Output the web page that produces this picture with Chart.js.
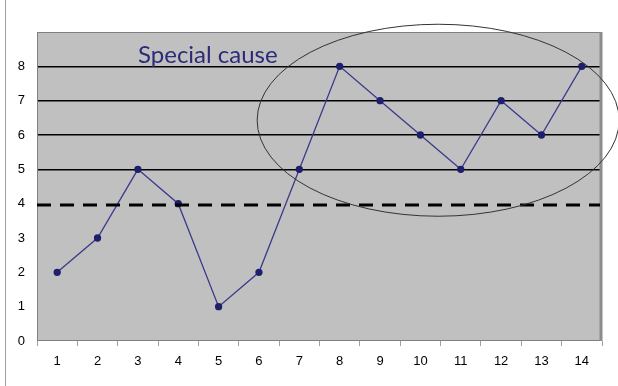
<!DOCTYPE html>
<html>
<head>
<meta charset="utf-8">
<script src="https://cdn.jsdelivr.net/npm/chart.js@4.4.0/dist/chart.umd.min.js"></script>
<style>
  html, body { margin: 0; padding: 0; background: #fff; }
  #wrap { width: 618px; height: 386px; }
</style>
</head>
<body>
<div id="wrap"><canvas id="chart"></canvas></div>
<script>
// Data
const categories = ['1', '2', '3', '4', '5', '6', '7', '8', '9', '10', '11', '12', '13', '14'];
const values = [2, 3, 5, 4, 1, 2, 5, 8, 7, 6, 5, 7, 6, 8];
const yTicks = [0, 1, 2, 3, 4, 5, 6, 7, 8];
const centerLine = 3.95;
const gridValues = [5, 6, 7, 8];
const noteText = 'Special cause';

// Background, borders, dashed line, ellipse and note
const decorPlugin = {
    id: 'decor',
    beforeDraw(chart) {
        const c = chart.ctx;
        const a = chart.chartArea;
        c.save();
        c.fillStyle = '#c0c0c0';
        c.fillRect(a.left, a.top, a.right - a.left, a.bottom - a.top);
        // thin frame line on the far left
        c.strokeStyle = '#a0a0a0';
        c.lineWidth = 1;
        c.beginPath();
        c.moveTo(5.5, 0);
        c.lineTo(5.5, chart.height);
        c.stroke();
        c.restore();
    },
    afterDatasetsDraw(chart) {
        const c = chart.ctx;
        const a = chart.chartArea;
        const x = chart.scales.x;
        const y = chart.scales.y;
        c.save();
        // plot border
        c.strokeStyle = '#808080';
        c.lineWidth = 1;
        c.strokeRect(a.left + 0.5, a.top + 0.5, a.right - a.left - 1, a.bottom - a.top - 1);
        c.strokeStyle = '#8c8c8c';
        c.lineWidth = 3;
        c.beginPath();
        c.moveTo(a.right - 1, a.top);
        c.lineTo(a.right - 1, a.bottom);
        c.stroke();

        // dashed center line
        const yc = Math.round(y.getPixelForValue(centerLine));
        c.strokeStyle = '#000';
        c.lineWidth = 3;
        c.setLineDash([14, 9]);
        c.beginPath();
        c.moveTo(a.left, yc);
        c.lineTo(a.right - 2, yc);
        c.stroke();
        c.setLineDash([]);

        // ellipse around the special cause points
        const ex = x.getPixelForValue(9.44);
        const ey = y.getPixelForValue(6.43);
        c.strokeStyle = '#333';
        c.lineWidth = 1;
        c.beginPath();
        c.ellipse(ex, ey, 181, 96, 0, 0, Math.PI * 2);
        c.stroke();

        // note
        c.fillStyle = '#2b2b78';
        c.font = '24px Lato';
        c.textBaseline = 'alphabetic';
        c.fillText(noteText, 138, 63);
        c.restore();
    }
};

new Chart(document.getElementById('chart'), {
    type: 'line',
    data: {
        labels: categories,
        datasets: [{
            data: values,
            borderColor: '#3a3a8c',
            borderWidth: 1.3,
            pointBackgroundColor: '#1f1f6b',
            pointBorderColor: '#1f1f6b',
            pointRadius: 3,
            pointHoverRadius: 3,
            tension: 0
        }]
    },
    options: {
        responsive: true,
        maintainAspectRatio: false,
        animation: false,
        events: [],
        layout: { padding: { top: 32, right: 16, left: 0, bottom: 0 } },
        plugins: {
            legend: { display: false },
            tooltip: { enabled: false }
        },
        scales: {
            x: {
                offset: true,
                border: { display: false },
                grid: {
                    offset: true,
                    drawOnChartArea: false,
                    color: '#a0a0a0',
                    tickLength: 5
                },
                ticks: {
                    color: '#000',
                    padding: 8,
                    maxRotation: 0,
                    font: { family: 'Liberation Sans', size: 13 }
                },
                afterFit(scale) { scale.height = 45; }
            },
            y: {
                min: 0,
                max: 9,
                border: { display: false },
                afterBuildTicks(scale) {
                    scale.ticks = yTicks.concat([9]).map(v => ({ value: v }));
                },
                grid: {
                    drawTicks: false,
                    color: ctx => gridValues.includes(ctx.tick.value) ? '#000' : 'rgba(0,0,0,0)',
                    lineWidth: 1.5
                },
                ticks: {
                    color: '#000',
                    padding: 12,
                    font: { family: 'Liberation Sans', size: 13 },
                    callback: v => yTicks.includes(v) ? String(v) : ''
                },
                afterFit(scale) { scale.width = 37; }
            }
        }
    },
    plugins: [decorPlugin]
});
</script>
</body>
</html>
